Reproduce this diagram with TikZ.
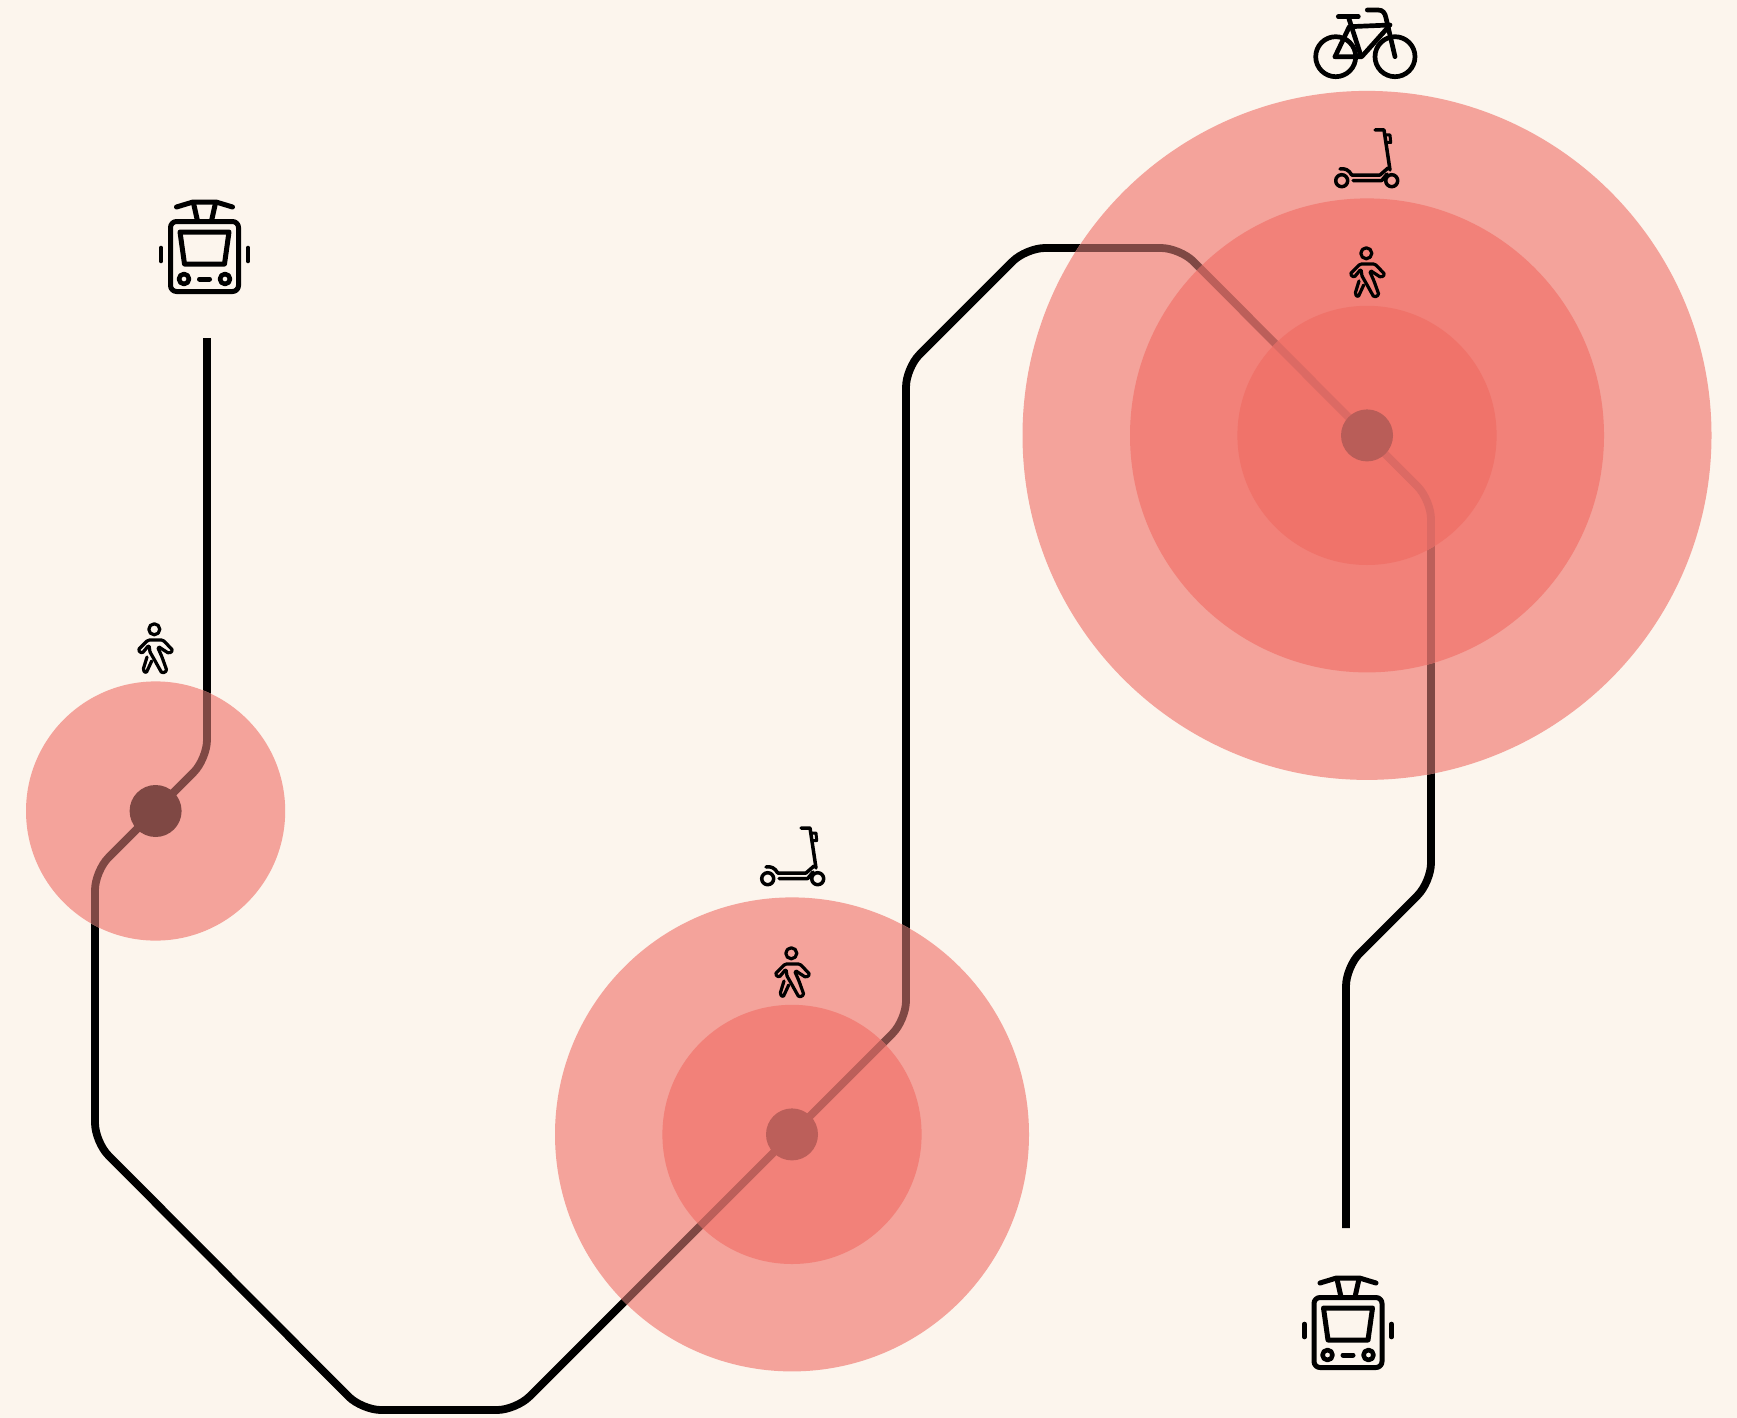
\documentclass[tikz,border=0pt]{standalone}
\definecolor{bgc}{HTML}{FCF5ED}
\definecolor{zoneA}{HTML}{F4A39B}
\definecolor{zoneB}{HTML}{F28179}
\definecolor{zoneC}{HTML}{F0736A}
\definecolor{lineA}{HTML}{7F4844}
\definecolor{lineB}{HTML}{BC5F5A}
\definecolor{lineC}{HTML}{DC6A64}
\definecolor{dotC}{HTML}{B95D58}
\tikzset{
 x=1pt,y=-1pt,
 route/.style={line width=7.8pt,rounded corners=19pt},
 stopdot/.style={circle,minimum size=52pt,inner sep=0pt,draw=none},
 ico/.style={line width=#1,black,line cap=round,line join=round,fill=none},
 tram/.pic={
  \draw[ico=5pt,rounded corners=6pt] (-34,-31.5) rectangle (34,38.5);
  \draw[ico=5pt] (-24.5,-21) -- (24.5,-21) -- (20,11) -- (-20,11) -- cycle;
  \draw[ico=4.6pt] (-20.5,26) circle (5);
  \draw[ico=4.6pt] (20.5,26) circle (5);
  \draw[ico=5pt] (-5,26) -- (5,26);
  \draw[ico=5pt] (-28,-46) -- (-11.5,-51) -- (11.5,-51) -- (28,-46);
  \draw[ico=5pt] (-11,-50) -- (-7,-32);
  \draw[ico=5pt] (11,-50) -- (7,-32);
  \draw[ico=4.6pt] (-43.5,-5) -- (-43.5,8);
  \draw[ico=4.6pt] (43.5,-5) -- (43.5,8);
 },
 walker/.pic={
  \draw[ico=3.2pt] (-0.7,-19.7) circle (5.5);
  \draw[ico=3.2pt,rounded corners=1.5pt] (-5,3) -- (-6,-4) -- (-13,4.5) -- (-17,1) -- (-7,-9) -- (8,-9) -- (18,1.5) -- (14,4.5) -- (4,-2);
  \draw[ico=3.2pt,rounded corners=1.5pt] (3,-1) -- (7,8) -- (12,22) -- (7,24.3) -- (-1,10) -- (-5,3);
  \draw[ico=3.2pt,rounded corners=1.5pt] (-8,8) -- (-12,21) -- (-9,24.3) -- (-3.3,12);
 },
 scooter/.pic={
  \draw[ico=3.5pt] (-25.3,21.7) circle (6);
  \draw[ico=3.5pt] (24.7,21.7) circle (6);
  \draw[ico=3.5pt] (-15.3,16) -- (13,16) -- (21,9);
  \draw[ico=3.5pt] (-14,21.5) -- (14.7,21.5) -- (20,15);
  \draw[ico=3.5pt] (-27,10) .. controls (-22,9) and (-18,11) .. (-15.3,16);
  \draw[ico=3.5pt] (8,-29) -- (17,-29) -- (23,11);
  \draw[ico=3pt] (18,-24) -- (23,-24) -- (23.7,-16.5) -- (20,-16.5);
 },
 bike/.pic={
  \draw[ico=4.7pt] (-29.3,12.7) circle (20);
  \draw[ico=4.7pt] (30,12.7) circle (20);
  \draw[ico=4.7pt] (-26.7,-27.3) -- (-6.7,-27.3);
  \draw[ico=4.7pt] (-16.7,-27.3) -- (-4,12);
  \draw[ico=4.7pt] (-30,12.7) -- (-15.7,-17.3) -- (25,-19);
  \draw[ico=4.7pt] (-30,12.7) -- (-3.3,12.7) -- (23.3,-17);
  \draw[ico=4.7pt] (2.3,-34) -- (13,-34) .. controls (18,-34) and (20,-31) .. (21,-26) -- (30,12.7);
 },
}
\newcommand{\routepath}{(s0) -- (a) -- (b) -- (c) -- (d) -- (e) -- (f) -- (g) -- (h) -- (i) -- (j) -- (k) -- (l) -- (s1)}
\newcommand{\haloring}[4]{%
 \fill[#3] (#1) circle (#2);
 \begin{scope}
  \clip (#1) circle (#2);
  \draw[route,#4] \routepath;
 \end{scope}}
\begin{document}
\begin{tikzpicture}
\fill[bgc] (0,0) rectangle (1737,1418);
\useasboundingbox (0,0) rectangle (1737,1418);
\coordinate (s0) at (207,338);
\coordinate (a) at (207,759);
\coordinate (b) at (95,871);
\coordinate (c) at (95,1142);
\coordinate (d) at (362,1410);
\coordinate (e) at (516,1410);
\coordinate (f) at (906,1020);
\coordinate (g) at (906,368);
\coordinate (h) at (1026,248);
\coordinate (i) at (1180,248);
\coordinate (j) at (1431,500);
\coordinate (k) at (1431,882);
\coordinate (l) at (1346,967);
\coordinate (s1) at (1346,1228);
\coordinate (c1) at (155.6,811);
\coordinate (c2) at (792,1134.4);
\coordinate (c3) at (1367,435.4);
\draw[route,black] \routepath;
\haloring{c1}{129.6}{zoneA}{lineA}
\haloring{c2}{237}{zoneA}{lineA}
\haloring{c3}{344.5}{zoneA}{lineA}
\haloring{c2}{129.6}{zoneB}{lineB}
\haloring{c3}{237}{zoneB}{lineB}
\haloring{c3}{129.6}{zoneC}{lineC}
\node[stopdot,fill=lineA] (n1) at (c1) {};
\node[stopdot,fill=lineB] (n2) at (c2) {};
\node[stopdot,fill=dotC] (n3) at (c3) {};
\pic at (204.5,253) {tram};
\pic at (1348,1329) {tram};
\pic at (155,649) {walker};
\pic at (792,973) {walker};
\pic at (1367,273) {walker};
\pic at (793,857) {scooter};
\pic at (1367,159) {scooter};
\pic at (1365,44) {bike};
\end{tikzpicture}
\end{document}
